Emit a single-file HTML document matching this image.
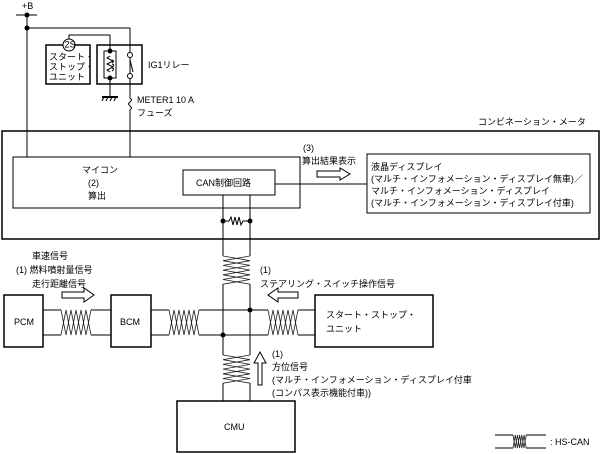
<!DOCTYPE html>
<html><head><meta charset="utf-8"><style>
html,body{margin:0;padding:0;background:#fff;}
svg{display:block;}
text{font-family:"Liberation Sans","Noto Sans CJK JP",sans-serif;font-size:9px;fill:#000;}
</style></head><body>
<svg width="601" height="454" viewBox="0 0 601 454" xmlns="http://www.w3.org/2000/svg">
<g fill="none" stroke="#000" stroke-width="1">
<line x1="16" y1="15" x2="37" y2="15"/>
<line x1="27" y1="15" x2="27" y2="157"/>
<line x1="27" y1="28" x2="130" y2="28"/>
<line x1="130" y1="28" x2="130" y2="157"/>
<rect x="46" y="45" width="44" height="39" stroke-width="1.5"/>
<circle cx="69" cy="45" r="6" fill="#fff"/>
<polyline points="69,39 69,35 110,35 110,51"/>
<rect x="97" y="45" width="45" height="39" stroke-width="1.5"/>
<polyline points="110,51 104,51 104,78 110,78 116,78 116,51 110,51"/>
<polyline points="110,56 107,58 113,61 107,64 113,67 107,70 110,72"/>
<path d="M112,60 q3,1 0,3 M112,64 q3,1 0,3 M112,68 q3,1 0,3"/>
<line x1="110" y1="78" x2="110" y2="97"/>
<line x1="102" y1="97" x2="118" y2="97" stroke-width="2"/>
<path d="M104,97 l-2,4 M108,97 l-2,4 M112,97 l-2,4 M116,97 l-2,4"/>
<line x1="130" y1="60" x2="133" y2="72"/>
<path d="M130,98 q3,2 0,4 q-3,2 0,4 q3,2 0,4" fill="#fff" stroke="#fff" stroke-width="3"/>
<path d="M130,98 q3,2 0,4 q-3,2 0,4 q3,2 0,4"/>
<rect x="2" y="131" width="597" height="108" stroke-width="1.5"/>
<rect x="13" y="157" width="287" height="51"/>
<rect x="183" y="170" width="92" height="25"/>
<line x1="275" y1="184" x2="367" y2="184"/>
<rect x="367" y="154" width="223" height="59"/>
<path d="M317,171 h23 v-3 l10,6 l-10,6 v-3 h-23 z"/>
<line x1="223" y1="195" x2="223" y2="256"/>
<line x1="250" y1="195" x2="250" y2="256"/>
<polyline points="223,221 229,221 231,217 233,225 235,217 237,225 239,217 241,225 243,221 250,221"/>
<rect x="4" y="295" width="39" height="52" stroke-width="1.5"/>
<rect x="111" y="295" width="40" height="52" stroke-width="1.5"/>
<rect x="315" y="295" width="118" height="52" stroke-width="1.5"/>
<rect x="177" y="401" width="118" height="51" stroke-width="1.5"/>
<polyline points="43,310 61,310"/><polyline points="43,335 61,335"/>
<polyline points="91,310 111,310"/><polyline points="91,335 111,335"/>
<polyline points="151,310 169,310"/><polyline points="151,335 169,335"/>
<polyline points="199,310 268,310"/><polyline points="199,335 268,335"/>
<polyline points="298,310 315,310"/><polyline points="298,335 315,335"/>
<line x1="223" y1="284" x2="223" y2="355"/>
<line x1="250" y1="284" x2="250" y2="355"/>
<line x1="223" y1="383" x2="223" y2="401"/>
<line x1="250" y1="383" x2="250" y2="401"/>
<path d="M62,292 h22 v-4 l10,7 l-10,7 v-4 h-22 z"/>
<path d="M298,292 h-20 v-4 l-10,7 l10,7 v-4 h20 z"/>
<path d="M258,385 v-22 h-4 l6,-11 l6,11 h-4 v22 z"/>
<polyline points="495,435 513,435"/><polyline points="495,448 513,448"/>
<polyline points="526,435 546,435"/><polyline points="526,448 546,448"/>
</g>
<g fill="none" stroke="#222" stroke-width="0.8">
<!-- horizontal twists -->
<path d="M61,310 l5,25 l5,-25 l5,25 l5,-25 l5,25 l5,-25"/>
<path d="M61,335 l5,-25 l5,25 l5,-25 l5,25 l5,-25 l5,25"/>
<path d="M169,310 l5,25 l5,-25 l5,25 l5,-25 l5,25 l5,-25"/>
<path d="M169,335 l5,-25 l5,25 l5,-25 l5,25 l5,-25 l5,25"/>
<path d="M268,310 l5,25 l5,-25 l5,25 l5,-25 l5,25 l5,-25"/>
<path d="M268,335 l5,-25 l5,25 l5,-25 l5,25 l5,-25 l5,25"/>
<!-- vertical twists -->
<path d="M223,256 l27,4.7 l-27,4.7 l27,4.7 l-27,4.7 l27,4.7 l-27,4.7"/>
<path d="M250,256 l-27,4.7 l27,4.7 l-27,4.7 l27,4.7 l-27,4.7 l27,4.7"/>
<path d="M223,355 l27,4.7 l-27,4.7 l27,4.7 l-27,4.7 l27,4.7 l-27,4.7"/>
<path d="M250,355 l-27,4.7 l27,4.7 l-27,4.7 l27,4.7 l-27,4.7 l27,4.7"/>
<!-- legend twist -->
<path d="M513,435 l2.2,13 l2.2,-13 l2.2,13 l2.2,-13 l2.2,13 l2.2,-13"/>
<path d="M513,448 l2.2,-13 l2.2,13 l2.2,-13 l2.2,13 l2.2,-13 l2.2,13"/>
</g>
<g fill="#000">
<circle cx="27" cy="15" r="2.5"/><circle cx="27" cy="28" r="2.5"/>
<circle cx="110" cy="51" r="2.5"/><circle cx="110" cy="78" r="2.5"/>
<circle cx="130" cy="55" r="2.5" fill="#fff" stroke="#000"/><circle cx="130" cy="76" r="2.5" fill="#fff" stroke="#000"/>
<circle cx="223" cy="221" r="2.5"/><circle cx="250" cy="221" r="2.5"/>
<circle cx="250" cy="310" r="2.5"/><circle cx="223" cy="335" r="2.5"/>
</g>
<text x="22" y="9">+B</text>
<text x="64.5" y="47.5" font-size="5.5px">2S</text>
<text x="49" y="60" font-size="7px" fill="#555">スタート・</text>
<text x="49" y="70" font-size="7px" fill="#555">ストップ・</text>
<text x="49" y="80" font-size="7px" fill="#555">ユニット</text>
<text x="148" y="68">IG1リレー</text>
<text x="137" y="103">METER1 10 A</text>
<text x="137" y="116">フューズ</text>
<text x="478" y="125">コンビネーション・メータ</text>
<text x="82" y="173">マイコン</text>
<text x="88" y="186">(2)</text>
<text x="88" y="199">算出</text>
<text x="196" y="186">CAN制御回路</text>
<text x="303" y="151">(3)</text>
<text x="302" y="164">算出結果表示</text>
<text x="371" y="170" font-size="8px">液晶ディスプレイ</text>
<text x="371" y="182" font-size="8px">(マルチ・インフォメーション・ディスプレイ無車)／</text>
<text x="371" y="194" font-size="8px">マルチ・インフォメーション・ディスプレイ</text>
<text x="371" y="206" font-size="8px">(マルチ・インフォメーション・ディスプレイ付車)</text>
<text x="32" y="259">車速信号</text>
<text x="16" y="273">(1) 燃料噴射量信号</text>
<text x="32" y="287">走行距離信号</text>
<text x="260" y="273">(1)</text>
<text x="260" y="287">ステアリング・スイッチ操作信号</text>
<text x="14" y="325">PCM</text>
<text x="120" y="325">BCM</text>
<text x="326" y="318">スタート・ストップ・</text>
<text x="326" y="332">ユニット</text>
<text x="272" y="357">(1)</text>
<text x="272" y="370">方位信号</text>
<text x="272" y="383">(マルチ・インフォメーション・ディスプレイ付車</text>
<text x="272" y="396">(コンパス表示機能付車))</text>
<text x="224" y="430">CMU</text>
<text x="550" y="445">: HS-CAN</text>
</svg>
</body></html>
